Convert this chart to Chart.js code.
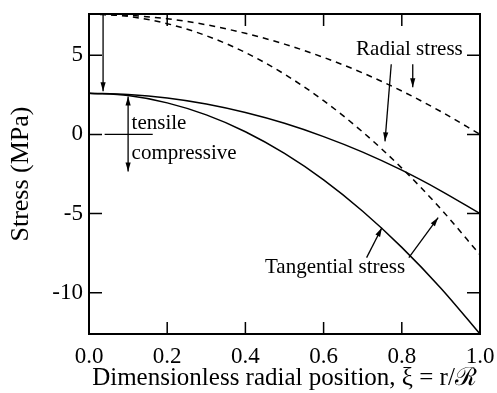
<!DOCTYPE html>
<html>
<head>
<meta charset="utf-8">
<script src="https://cdn.jsdelivr.net/npm/chart.js@4"></script>
<style>
  html, body { margin: 0; padding: 0; background: #fff; }
  #wrap { width: 497px; height: 393px; }
</style>
</head>
<body>
<div id="wrap"><canvas id="stressChart"></canvas></div>
<script>
// valores
const xi = [0, 0.1, 0.2, 0.3, 0.4, 0.5, 0.6, 0.7, 0.8, 0.9, 1.0];
const radialOuter = [7.6, 7.52, 7.30, 6.92, 6.38, 5.70, 4.86, 3.88, 2.74, 1.44, 0.0];
const radialInner = [7.6, 7.45, 6.99, 6.23, 5.17, 3.80, 2.13, 0.15, -2.13, -4.71, -7.6];
const tangOuter = [2.6, 2.52, 2.30, 1.92, 1.38, 0.70, -0.14, -1.12, -2.26, -3.56, -5.0];
const tangInner = [2.6, 2.45, 1.99, 1.23, 0.17, -1.20, -2.87, -4.85, -7.13, -9.71, -12.6];
const xTicks = [0, 0.2, 0.4, 0.6, 0.8, 1.0];
const yTicks = [-10, -5, 0, 5];

const serif = "'Liberation Serif', 'DejaVu Serif', serif";

function toPoints(ys) {
    return xi.map((x, i) => ({ x: x, y: ys[i] }));
}

function line(ys, dashed) {
    return {
        data: toPoints(ys),
        borderColor: '#000',
        borderWidth: 1.5,
        borderDash: dashed ? [6, 5] : [],
        pointRadius: 0,
        cubicInterpolationMode: 'monotone',
        fill: false
    };
}

// anotações em unidades de dados
const labels = [
    { text: 'Radial stress', x: 0.683, y: 5.38 },
    { text: 'Tangential stress', x: 0.45, y: -8.42 },
    { text: 'tensile', x: 0.109, y: 0.7 },
    { text: 'compressive', x: 0.109, y: -1.2 }
];
const arrows = [
    { from: [0.773, 4.43], to: [0.757, -0.44] },
    { from: [0.828, 4.43], to: [0.828, 2.97] },
    { from: [0.710, -7.78], to: [0.749, -5.89] },
    { from: [0.818, -7.78], to: [0.893, -5.25] },
    { from: [0.036, 7.6], to: [0.036, 2.72] },
    { from: [0.1, 0], to: [0.1, 2.4] },
    { from: [0.1, 0], to: [0.1, -2.35] }
];
const zeroLine = [0.04, 0.163];

function arrowHead(ctx, x1, y1, x2, y2) {
    const a = Math.atan2(y2 - y1, x2 - x1);
    const len = 9, w = 2.6;
    ctx.beginPath();
    ctx.moveTo(x2, y2);
    ctx.lineTo(x2 - len * Math.cos(a) + w * Math.sin(a), y2 - len * Math.sin(a) - w * Math.cos(a));
    ctx.lineTo(x2 - len * Math.cos(a) - w * Math.sin(a), y2 - len * Math.sin(a) + w * Math.cos(a));
    ctx.closePath();
    ctx.fill();
}

const framePlugin = {
    id: 'frame',
    afterDatasetsDraw(chart) {
        const ctx = chart.ctx;
        const xs = chart.scales.x, ys = chart.scales.y;
        const a = chart.chartArea;
        ctx.save();
        ctx.strokeStyle = '#000';
        ctx.fillStyle = '#000';

        // moldura e marcas para dentro
        ctx.lineWidth = 2;
        ctx.strokeRect(a.left, a.top, a.right - a.left, a.bottom - a.top);
        ctx.lineWidth = 1.5;
        ctx.beginPath();
        xTicks.forEach(v => {
            const px = xs.getPixelForValue(v);
            ctx.moveTo(px, a.bottom); ctx.lineTo(px, a.bottom - 12);
            ctx.moveTo(px, a.top); ctx.lineTo(px, a.top + 12);
        });
        yTicks.forEach(v => {
            const py = ys.getPixelForValue(v);
            ctx.moveTo(a.left, py); ctx.lineTo(a.left + 13, py);
            ctx.moveTo(a.right, py); ctx.lineTo(a.right - 13, py);
        });
        ctx.stroke();

        // linha do zero
        ctx.lineWidth = 1.3;
        ctx.beginPath();
        const zy = ys.getPixelForValue(0);
        ctx.moveTo(xs.getPixelForValue(zeroLine[0]), zy);
        ctx.lineTo(xs.getPixelForValue(zeroLine[1]), zy);
        ctx.stroke();

        // setas
        arrows.forEach(ar => {
            const x1 = xs.getPixelForValue(ar.from[0]), y1 = ys.getPixelForValue(ar.from[1]);
            const x2 = xs.getPixelForValue(ar.to[0]), y2 = ys.getPixelForValue(ar.to[1]);
            ctx.beginPath();
            ctx.moveTo(x1, y1); ctx.lineTo(x2, y2);
            ctx.stroke();
            arrowHead(ctx, x1, y1, x2, y2);
        });

        // textos
        ctx.font = '21px ' + serif;
        ctx.textAlign = 'left';
        ctx.textBaseline = 'middle';
        labels.forEach(l => {
            ctx.fillText(l.text, xs.getPixelForValue(l.x), ys.getPixelForValue(l.y));
        });
        ctx.restore();
    }
};

new Chart(document.getElementById('stressChart'), {
    type: 'line',
    data: {
        datasets: [
            line(radialOuter, true),
            line(radialInner, true),
            line(tangOuter, false),
            line(tangInner, false)
        ]
    },
    options: {
        responsive: true,
        maintainAspectRatio: false,
        animation: false,
        layout: { padding: { top: 14, right: 17, left: 0, bottom: 0 } },
        plugins: { legend: { display: false }, tooltip: { enabled: false } },
        scales: {
            x: {
                type: 'linear',
                min: 0,
                max: 1,
                afterBuildTicks: s => { s.ticks = xTicks.map(v => ({ value: v })); },
                afterFit: s => { s.height = 59; s.paddingLeft = 0; s.paddingRight = 0; },
                grid: { display: false, drawTicks: false },
                border: { display: false },
                ticks: {
                    color: '#000',
                    padding: 9,
                    maxRotation: 0,
                    font: { family: serif, size: 23 },
                    callback: v => Number(v).toFixed(1)
                },
                title: {
                    display: true,
                    text: 'Dimensionless radial position, ξ = r/ℛ',
                    color: '#000',
                    font: { family: serif, size: 25 },
                    padding: { top: 0, bottom: 0 }
                }
            },
            y: {
                min: -12.6,
                max: 7.6,
                afterBuildTicks: s => { s.ticks = yTicks.map(v => ({ value: v })); },
                afterFit: s => { s.width = 89; s.paddingTop = 0; s.paddingBottom = 0; },
                grid: { display: false, drawTicks: false },
                border: { display: false },
                ticks: {
                    color: '#000',
                    padding: 6,
                    font: { family: serif, size: 23 },
                    callback: v => String(v)
                },
                title: {
                    display: true,
                    text: 'Stress (MPa)',
                    color: '#000',
                    font: { family: serif, size: 26 },
                    padding: { top: 6, bottom: 0 }
                }
            }
        }
    },
    plugins: [framePlugin]
});
</script>
</body>
</html>
